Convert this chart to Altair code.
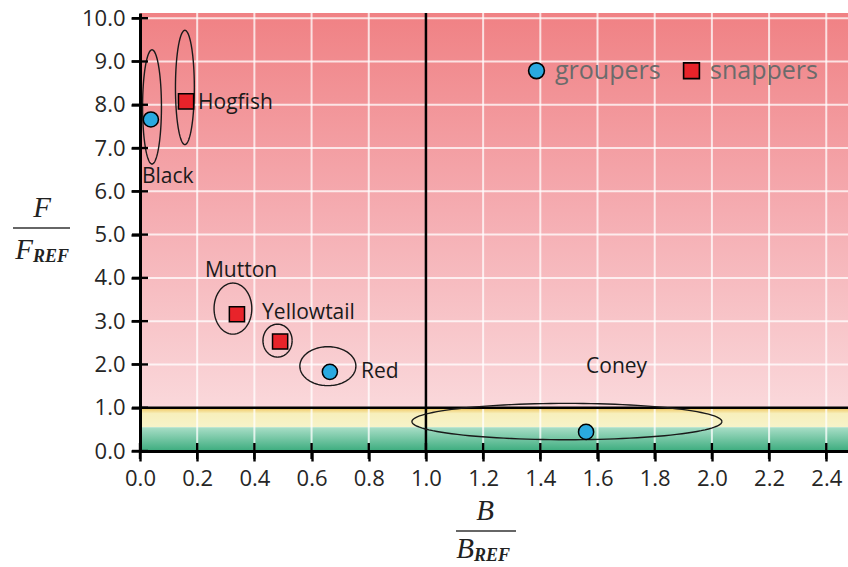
import altair as alt
import numpy as np
import pandas as pd

# --- stock status of reef fishes: relative biomass vs relative fishing mortality
species = ["Black", "Hogfish", "Mutton", "Yellowtail", "Red", "Coney"]
family = ["groupers", "snappers", "snappers", "snappers", "groupers", "groupers"]
b_ratio = [0.038, 0.161, 0.339, 0.490, 0.664, 1.560]
f_ratio = [7.66, 8.08, 3.16, 2.53, 1.83, 0.44]

# uncertainty ellipses (centre and semi-axes, in axis units)
ell_cx = [0.042, 0.157, 0.325, 0.481, 0.657, 1.493]
ell_cy = [7.95, 8.40, 3.29, 2.55, 1.96, 0.68]
ell_rx = [0.033, 0.033, 0.066, 0.051, 0.098, 0.542]
ell_ry = [1.32, 1.32, 0.59, 0.38, 0.45, 0.42]

# anchor of each species name (left edge, vertical centre)
label_x = [0.007, 0.203, 0.227, 0.427, 0.773, 1.560]
label_y = [6.33, 8.03, 4.15, 3.20, 1.83, 1.93]

# axis ticks
x_major = [0.0, 0.2, 0.4, 0.6, 0.8, 1.0, 1.2, 1.4, 1.6, 1.8, 2.0, 2.2, 2.4]
x_minor = [0.1, 0.3, 0.5, 0.7, 0.9, 1.1, 1.3, 1.5, 1.7, 1.9, 2.1, 2.3]
y_major = [0, 1, 2, 3, 4, 5, 6, 7, 8, 9, 10]
y_minor = [0.5, 1.5, 2.5, 3.5, 4.5, 5.5, 6.5, 7.5, 8.5, 9.5]

X_MAX = 2.476
Y_MAX = 10.12
# status zones: overfished / caution / healthy
zone_lo = [1.0, 0.55, 0.0]
zone_hi = [Y_MAX, 1.0, 0.55]

W, H = 708, 438

xs = alt.Scale(domain=[0, X_MAX], nice=False, zero=False)
ys = alt.Scale(domain=[0, Y_MAX], nice=False, zero=False)

pts = pd.DataFrame({"species": species, "family": family, "b": b_ratio, "f": f_ratio,
                    "lx": label_x, "ly": label_y})

# ellipse outlines
t = np.linspace(0, 2 * np.pi, 121)
rows = []
for name, cx, cy, rx, ry in zip(species, ell_cx, ell_cy, ell_rx, ell_ry):
    for i, a in enumerate(t):
        rows.append({"species": name, "i": i, "ex": cx + rx * np.cos(a), "ey": cy + ry * np.sin(a)})
ell = pd.DataFrame(rows)

zones = pd.DataFrame({"x0": [0.0] * 3, "x1": [X_MAX] * 3, "y0": zone_lo, "y1": zone_hi})


def grad(stops):
    return {"gradient": "linear", "x1": 0, "y1": 0, "x2": 0, "y2": 1,
            "stops": [{"offset": o, "color": c} for o, c in stops]}


red_fill = grad([(0, "#F08184"), (0.5, "#F5ACB1"), (1, "#FAD8DB")])
yel_fill = grad([(0, "#EEAA22"), (0.1, "#F2D27A"), (0.3, "#F7EFBC"), (1, "#F7F3C9")])
grn_fill = grad([(0, "#A9DEC7"), (1, "#3CAC7E")])

MAJOR_X = "abs(datum.value*5 - round(datum.value*5)) < 0.001"
MAJOR_Y = "datum.value == round(datum.value)"

x_axis = alt.Axis(
    values=sorted(x_major + x_minor), title=None, grid=False, zindex=1,
    labelExpr=f"{MAJOR_X} ? format(datum.value, '.1f') : ''",
    tickSize={"condition": {"test": MAJOR_X, "value": 10}, "value": 5},
    tickWidth=2.4, tickColor="black", domainColor="black", domainWidth=3,
    labelFont="Open Sans", labelFontSize=22, labelColor="#262626", labelPadding=7,
    labelFlush=False, labelOverlap=False,
)
y_axis = alt.Axis(
    values=sorted(y_major + y_minor), title=None, grid=False, zindex=1,
    labelExpr=f"{MAJOR_Y} ? format(datum.value, '.1f') : ''",
    tickSize={"condition": {"test": MAJOR_Y, "value": 9}, "value": 5},
    tickWidth=2.4, tickColor="black", domainColor="black", domainWidth=3,
    labelFont="Open Sans", labelFontSize=22, labelColor="#262626", labelPadding=6,
    labelFlush=False, labelOverlap=False,
)

base_x = alt.X("x0:Q", scale=xs, axis=x_axis)
base_y = alt.Y("y0:Q", scale=ys, axis=y_axis)

red_zone = alt.Chart(zones.iloc[[0]]).mark_rect(fill=red_fill).encode(x=base_x, x2="x1", y=base_y, y2="y1")
yel_zone = alt.Chart(zones.iloc[[1]]).mark_rect(fill=yel_fill).encode(x="x0:Q", x2="x1", y="y0:Q", y2="y1")
grn_zone = alt.Chart(zones.iloc[[2]]).mark_rect(fill=grn_fill).encode(x="x0:Q", x2="x1", y="y0:Q", y2="y1")

vgrid = alt.Chart(pd.DataFrame({"v": x_major[1:]})).mark_rule(
    color="white", strokeWidth=2, opacity=0.75).encode(x="v:Q")
hgrid = alt.Chart(pd.DataFrame({"v": y_major[1:]})).mark_rule(
    color="white", strokeWidth=2, opacity=0.75).encode(y="v:Q")

# major ticks cross the axis line
x_cross = alt.Chart(pd.DataFrame({"v": x_major})).mark_tick(
    orient="vertical", size=16, thickness=2.4, color="black", opacity=1).encode(x="v:Q", y=alt.value(H))
y_cross = alt.Chart(pd.DataFrame({"v": y_major})).mark_tick(
    orient="horizontal", size=16, thickness=2.4, color="black", opacity=1).encode(y="v:Q", x=alt.value(0))

ref_v = alt.Chart(pd.DataFrame({"v": [1.0]})).mark_rule(color="black", strokeWidth=2.5).encode(x="v:Q")
ref_h = alt.Chart(pd.DataFrame({"v": [1.0]})).mark_rule(color="black", strokeWidth=2.5).encode(y="v:Q")

ellipses = alt.Chart(ell).mark_line(color="#1a1a1a", strokeWidth=1.4).encode(
    x="ex:Q", y="ey:Q", detail="species:N", order="i:Q")

legend = alt.Legend(
    title=None, orient="none", direction="horizontal", legendX=384, legendY=45,
    labelFont="Open Sans", labelFontSize=25, labelColor="#6b6b6b", labelOffset=6,
    symbolSize=250, symbolStrokeWidth=1.6, columnPadding=18, padding=0,
)
fam_dom = ["groupers", "snappers"]
points = alt.Chart(pts).mark_point(filled=True, size=230, strokeWidth=1.5, opacity=1).encode(
    x="b:Q", y="f:Q",
    fill=alt.Fill("family:N", scale=alt.Scale(domain=fam_dom, range=["#2AA9E0", "#E8232A"]), legend=legend),
    shape=alt.Shape("family:N", scale=alt.Scale(domain=fam_dom, range=["circle", "square"]), legend=legend),
    stroke=alt.Stroke("family:N", scale=alt.Scale(domain=fam_dom, range=["black", "black"]), legend=legend),
)

names = alt.Chart(pts).mark_text(align="left", baseline="middle", font="Open Sans",
                                  fontSize=21, color="#1a1a1a").encode(
    x="lx:Q", y="ly:Q", text="species:N")

one = pd.DataFrame({"k": [0]})
serif = "Liberation Serif"


def txt(s, x, y, size, align="center", weight="normal"):
    return alt.Chart(one).mark_text(text=s, font=serif, fontStyle="italic", fontSize=size, fontWeight=weight,
                                    align=align, baseline="middle", color="#222222").encode(
        x=alt.value(x), y=alt.value(y))


def bar(x1, x2, y):
    return alt.Chart(one).mark_rule(color="#333333", strokeWidth=1.6).encode(
        x=alt.value(x1), x2=alt.value(x2), y=alt.value(y))


titles = [
    txt("F", -98, 195, 29), bar(-127, -70, 215),
    txt("F", -116, 237, 29), txt("REF", -107, 244, 18, "left", "bold"),
    txt("B", 345, 498, 29), bar(316, 376, 518),
    txt("B", 325, 536, 29), txt("REF", 334, 543, 18, "left", "bold"),
]

chart = alt.layer(
    red_zone, yel_zone, grn_zone, vgrid, hgrid, ref_v, ref_h, ellipses, points, names,
    x_cross, y_cross, *titles
).properties(
    width=W, height=H,
    padding={"left": 140, "top": 13, "right": 0, "bottom": 116},
    autosize=alt.AutoSizeParams(type="none"),
).configure_view(stroke=None)

chart.save("out.html", embed_options={"renderer": "svg", "actions": False})
